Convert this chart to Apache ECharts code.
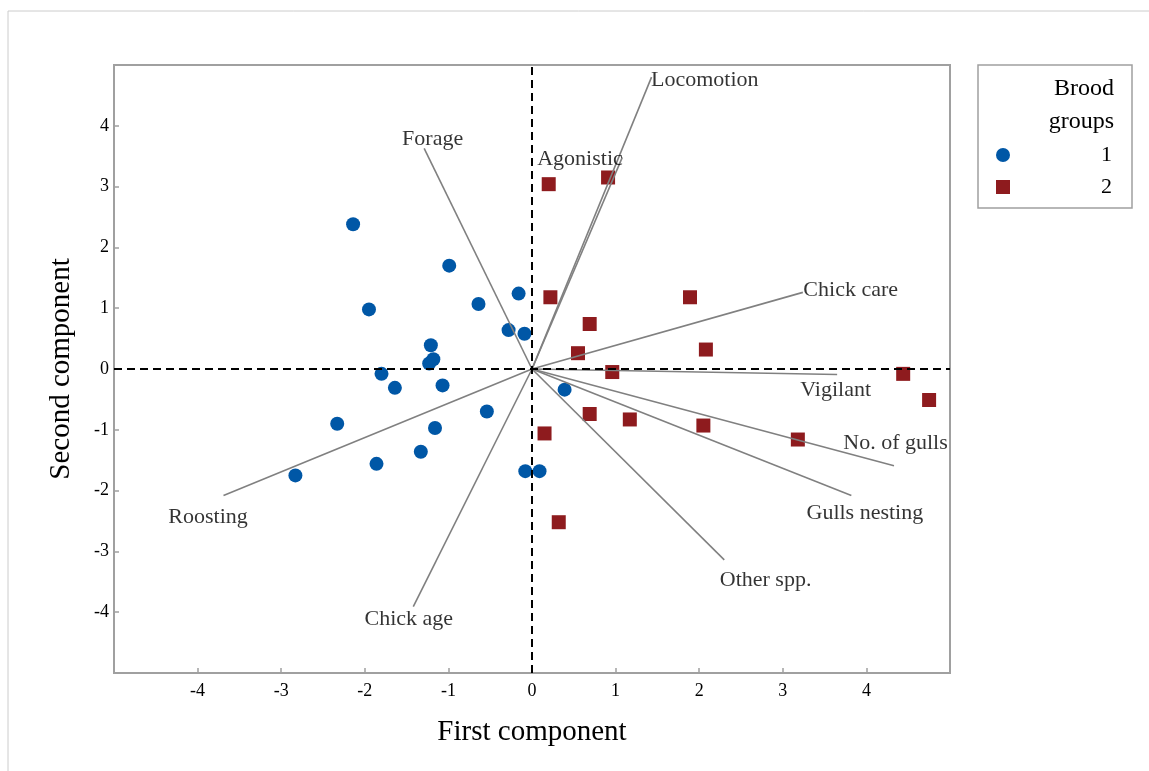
<!DOCTYPE html>
<html>
<head>
<meta charset="utf-8">
<script src="https://cdn.jsdelivr.net/npm/echarts@6/dist/echarts.min.js"></script>
<style>
html,body{margin:0;padding:0;background:#fff;}
#chart{width:1149px;height:771px;}
</style>
</head>
<body>
<div id="chart"></div>
<script>
// ---- data ----
const group1 = [
  [-2.14, 2.38], [-0.99, 1.70], [-1.95, 0.98], [-0.64, 1.07], [-0.16, 1.24],
  [-0.28, 0.64], [-0.09, 0.58], [-1.21, 0.39], [-1.18, 0.16], [-1.23, 0.09],
  [-1.80, -0.08], [-1.64, -0.31], [-1.07, -0.27], [-0.54, -0.70], [-2.33, -0.90],
  [-1.16, -0.97], [-1.33, -1.36], [-1.86, -1.56], [-2.83, -1.75], [-0.08, -1.68],
  [0.09, -1.68], [0.39, -0.34]
];
const group2 = [
  [0.20, 3.04], [0.91, 3.15], [0.22, 1.18], [1.89, 1.18], [0.69, 0.74],
  [2.08, 0.32], [0.55, 0.26], [0.96, -0.05], [4.44, -0.08], [4.75, -0.51],
  [0.69, -0.74], [1.17, -0.83], [2.05, -0.93], [3.18, -1.16], [0.15, -1.06],
  [0.32, -2.52]
];
const loadingNames = ['Locomotion', 'Agonistic', 'Chick care', 'Forage', 'Roosting',
  'Chick age', 'Vigilant', 'No. of gulls', 'Gulls nesting', 'Other spp.'];
const loadingX = [1.43, 1.08, 3.24, -1.29, -3.69, -1.42, 3.65, 4.33, 3.82, 2.30];
const loadingY = [4.80, 3.48, 1.26, 3.63, -2.08, -3.91, -0.09, -1.59, -2.08, -3.14];
const groupNames = ['1', '2'];
const axisTicks = [-4, -3, -2, -1, 0, 1, 2, 3, 4];

// ---- styling (label placement relative to vector tips, in px) ----
const labelPlace = {
  'Locomotion':    {align: 'left',   dx: 0,   dy: 4},
  'Agonistic':     {align: 'right',  dx: 1,   dy: 2},
  'Chick care':    {align: 'left',   dx: 1,   dy: -2},
  'Forage':        {align: 'center', dx: 9,   dy: -9},
  'Roosting':      {align: 'center', dx: -15, dy: 22},
  'Chick age':     {align: 'center', dx: -4,  dy: 13},
  'Vigilant':      {align: 'center', dx: -1,  dy: 16},
  'No. of gulls':  {align: 'center', dx: 2,   dy: -22},
  'Gulls nesting': {align: 'center', dx: 14,  dy: 18},
  'Other spp.':    {align: 'left',   dx: -4,  dy: 21}
};

const SERIF = '"Liberation Serif", "Times New Roman", serif';
const BLUE = '#0057a6';
const RED = '#8e1b1e';
const AXISGRAY = '#a0a0a0';

const chart = echarts.init(document.getElementById('chart'), null, {renderer: 'canvas'});

const vectorLines = loadingNames.map((n, i) => ({coords: [[0, 0], [loadingX[i], loadingY[i]]]}));
const vectorLabels = loadingNames.map((n, i) => {
  const p = labelPlace[n];
  return {
    name: n,
    value: [loadingX[i], loadingY[i]],
    label: {
      show: true,
      formatter: n,
      position: [p.dx, p.dy],
      align: p.align,
      verticalAlign: 'middle',
      color: '#000',
      fontFamily: SERIF,
      fontSize: 22
    }
  };
});

const tickSet = new Set(axisTicks);
function axisCommon(nameText, gap, isY) {
  return {
    type: 'value',
    min: -5, max: 5, interval: 1,
    name: nameText,
    nameLocation: 'middle',
    nameGap: gap,
    nameTextStyle: {fontFamily: SERIF, fontSize: 29, color: '#000'},
    axisLine: {show: true, onZero: false, lineStyle: {color: AXISGRAY, width: 2}},
    axisTick: {show: true, inside: true, length: 5, lineStyle: {color: AXISGRAY, width: 1.5}},
    axisLabel: {
      fontFamily: SERIF, fontSize: 18, color: '#000',
      margin: isY ? 5 : 9,
      formatter: v => tickSet.has(v) ? String(v) : ''
    },
    splitLine: {show: false}
  };
}

const option = {
  backgroundColor: '#fff',
  animation: false,
  grid: {
    left: 114, right: 199, top: 65, bottom: 98,
    show: true, borderColor: AXISGRAY, borderWidth: 2, backgroundColor: 'transparent'
  },
  xAxis: axisCommon('First component', 45, false),
  yAxis: axisCommon('Second component', 38, true),
  legend: {
    data: [{name: groupNames[0], icon: 'circle'}, {name: groupNames[1], icon: 'rect'}],
    orient: 'vertical',
    left: 978, top: 65,
    padding: [79, 20, 10, 18],
    borderColor: AXISGRAY, borderWidth: 1.5,
    itemWidth: 14, itemHeight: 14, itemGap: 10,
    formatter: n => '{t|' + n + '}',
    textStyle: {
      fontFamily: SERIF, fontSize: 22, color: '#000', lineHeight: 20,
      rich: {t: {width: 97, align: 'right', fontFamily: SERIF, fontSize: 22, lineHeight: 20, color: '#000'}}
    }
  },
  graphic: [
    {type: 'line', shape: {x1: 8, y1: 11, x2: 1149, y2: 11}, style: {stroke: '#cccccc', lineWidth: 1}, silent: true},
    {type: 'line', shape: {x1: 8, y1: 11, x2: 8, y2: 771}, style: {stroke: '#cccccc', lineWidth: 1}, silent: true},
    {type: 'text', right: 1149 - 1114, top: 72,
     style: {text: 'Brood\ngroups', font: '24px ' + SERIF, fill: '#000', textAlign: 'right', lineHeight: 33}}
  ],
  series: [
    {
      name: 'refLines',
      type: 'scatter',
      data: [],
      silent: true,
      z: 1,
      markLine: {
        silent: true,
        symbol: 'none',
        label: {show: false},
        lineStyle: {color: '#000', type: [8, 5], width: 2},
        data: [{xAxis: 0}, {yAxis: 0}],
        animation: false
      }
    },
    {
      name: groupNames[0],
      type: 'scatter',
      symbol: 'circle',
      symbolSize: 14,
      itemStyle: {color: BLUE, opacity: 1},
      data: group1,
      z: 3
    },
    {
      name: groupNames[1],
      type: 'scatter',
      symbol: 'rect',
      symbolSize: 14,
      itemStyle: {color: RED, opacity: 1},
      data: group2,
      z: 3
    },
    {
      name: 'vectors',
      type: 'lines',
      coordinateSystem: 'cartesian2d',
      polyline: false,
      silent: true,
      lineStyle: {color: '#808080', width: 1.6, opacity: 1, curveness: 0},
      data: vectorLines,
      z: 4
    },
    {
      name: 'vectorLabels',
      type: 'scatter',
      symbolSize: 1,
      silent: true,
      itemStyle: {color: 'rgba(0,0,0,0)'},
      label: {fontFamily: SERIF, fontSize: 22, color: '#000'},
      data: vectorLabels,
      z: 5
    }
  ]
};
chart.setOption(option);
</script>
</body>
</html>
